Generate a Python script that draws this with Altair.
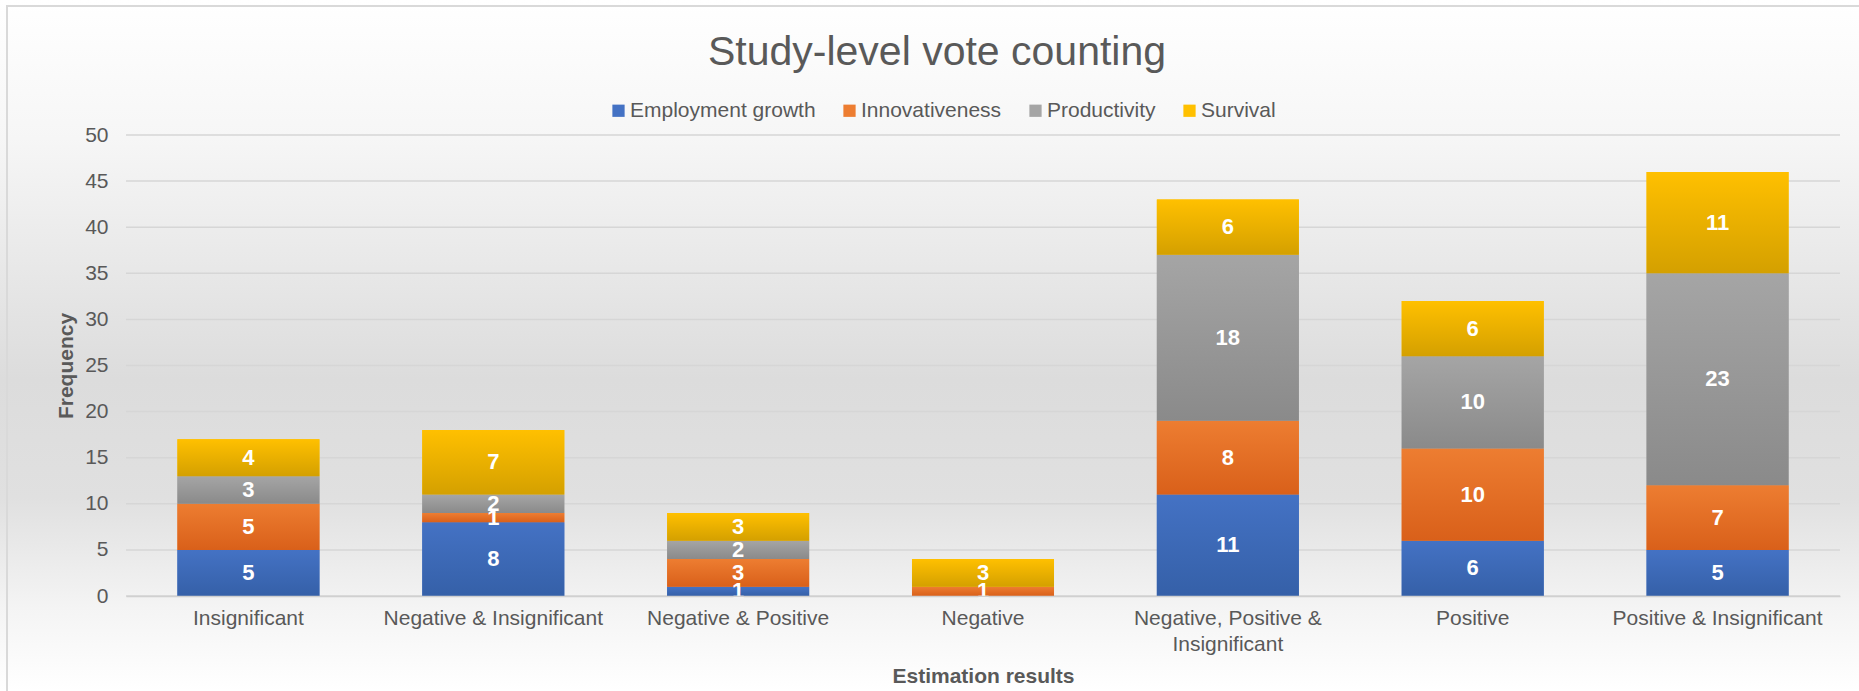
import altair as alt
import pandas as pd

# ---------------- data ----------------
CATEGORIES = [
    "Insignificant",
    "Negative & Insignificant",
    "Negative & Positive",
    "Negative",
    "Negative, Positive & Insignificant",
    "Positive",
    "Positive & Insignificant",
]
SERIES = ["Employment growth", "Innovativeness", "Productivity", "Survival"]
EMPLOYMENT = [5, 8, 1, 0, 11, 6, 5]
INNOVATIVENESS = [5, 1, 3, 1, 8, 10, 7]
PRODUCTIVITY = [3, 2, 2, 0, 18, 10, 23]
SURVIVAL = [4, 7, 3, 3, 6, 6, 11]
Y_TICKS = [0, 5, 10, 15, 20, 25, 30, 35, 40, 45, 50]

TOP_COLORS = ["#4472C4", "#ED7D31", "#A5A5A5", "#FFC000"]
BOTTOM_COLORS = ["#3560A8", "#D9601A", "#8A8A8A", "#D4A000"]

# ---------------- table ----------------
rows = []
series_values = [EMPLOYMENT, INNOVATIVENESS, PRODUCTIVITY, SURVIVAL]
for ci, cat in enumerate(CATEGORIES):
    base = 0
    for si, s in enumerate(SERIES):
        v = series_values[si][ci]
        rows.append({"category": cat, "series": s, "value": v,
                     "start": base, "end": base + v, "mid": base + v / 2})
        base += v
df = pd.DataFrame(rows)
ticks_df = pd.DataFrame({"start": Y_TICKS})

# ---------------- layout ----------------
W, H = 1714, 461
PAD_L, PAD_T, PAD_R, PAD_B = 126, 135, 19, 95
FONT = "Liberation Sans"
GREY_TXT = "#595959"

x_axis = alt.Axis(title="Estimation results", labelAngle=0, zindex=1,
                  labelExpr="datum.value == 'Negative, Positive & Insignificant' ? ['Negative, Positive &', 'Insignificant'] : datum.value",
                  labelFontSize=21, labelColor=GREY_TXT, labelFont=FONT,
                  labelPadding=11, labelLineHeight=26, labelLimit=400,
                  ticks=False, domainColor="#D0D0D0", domainWidth=1.5,
                  titleFontSize=21, titleFont=FONT, titleFontWeight="bold",
                  titleColor=GREY_TXT, titleX=W / 2, titleY=80,
                  titleBaseline="middle", titleAnchor="middle")
x_enc = alt.X("category:N", sort=CATEGORIES,
              scale=alt.Scale(paddingInner=0.42, paddingOuter=0.21),
              axis=x_axis)
y_scale = alt.Scale(domain=[0, 50], nice=False)
y_axis = alt.Axis(title="Frequency", values=Y_TICKS, grid=False, zindex=1,
                  labelFontSize=21, labelColor=GREY_TXT, labelFont=FONT,
                  labelPadding=18, ticks=False, domain=False,
                  titleFontSize=21, titleFont=FONT, titleFontWeight="bold",
                  titleColor=GREY_TXT, titleX=-60, titleY=H / 2,
                  titleAngle=-90, titleBaseline="middle", titleAlign="center")

one = alt.Data(values=[{"k": 1}])

background = alt.Chart(one).mark_rect(
    fill=alt.LinearGradient(
        gradient="linear", x1=0, x2=0, y1=0, y2=1,
        stops=[alt.GradientStop(color="#FFFFFF", offset=0),
               alt.GradientStop(color="#F6F6F6", offset=0.2),
               alt.GradientStop(color="#DCDCDC", offset=0.55),
               alt.GradientStop(color="#E0E0E0", offset=0.72),
               alt.GradientStop(color="#F4F4F4", offset=0.88),
               alt.GradientStop(color="#FFFFFF", offset=1)]),
).encode(x=alt.value(-PAD_L), x2=alt.value(W + PAD_R),
         y=alt.value(-PAD_T), y2=alt.value(H + PAD_B))

border = alt.Chart(one).mark_rect(
    fillOpacity=0, stroke="#D9D9D9", strokeWidth=2,
).encode(x=alt.value(-PAD_L + 7), x2=alt.value(W + PAD_R + 40),
         y=alt.value(-PAD_T + 6), y2=alt.value(H + PAD_B + 40))

grid = alt.Chart(ticks_df).mark_rule(color="#D6D6D6", strokeWidth=1.5).encode(
    y=alt.Y("start:Q", scale=y_scale, axis=y_axis)
)

solid = alt.Chart(df).mark_bar().encode(
    x=x_enc,
    y=alt.Y("start:Q", scale=y_scale, axis=y_axis),
    y2="end:Q",
    color=alt.Color("series:N", sort=SERIES,
                    scale=alt.Scale(domain=SERIES, range=TOP_COLORS),
                    legend=alt.Legend(title=None, orient="none", direction="horizontal",
                                      legendX=482, legendY=-35,
                                      symbolType="square", symbolSize=150,
                                      symbolStrokeWidth=0, labelFontSize=21,
                                      labelFont=FONT, labelColor=GREY_TXT, labelLimit=400,
                                      labelOffset=1, columnPadding=23)),
)

grad_layers = []
for si, s in enumerate(SERIES):
    g = alt.Chart(df).transform_filter(
        alt.datum.series == s
    ).mark_bar(
        fill=alt.LinearGradient(
            gradient="linear", x1=0, x2=0, y1=0, y2=1,
            stops=[alt.GradientStop(color=TOP_COLORS[si], offset=0),
                   alt.GradientStop(color=BOTTOM_COLORS[si], offset=1)])
    ).encode(
        x=alt.X("category:N", sort=CATEGORIES),
        y=alt.Y("start:Q"),
        y2="end:Q",
    )
    grad_layers.append(g)

labels = alt.Chart(df).transform_filter(
    alt.datum.value > 0
).mark_text(
    color="white", fontSize=22, fontWeight="bold", font=FONT, baseline="middle"
).encode(
    x=alt.X("category:N", sort=CATEGORIES),
    y=alt.Y("mid:Q"),
    text=alt.Text("value:Q"),
)

title = alt.Chart(alt.Data(values=[{"t": "Study-level vote counting"}])).mark_text(
    fontSize=41, font=FONT, color=GREY_TXT, align="center", baseline="middle"
).encode(text="t:N", x=alt.value(937 - PAD_L), y=alt.value(53 - PAD_T))

chart = alt.layer(background, border, grid, solid, *grad_layers, labels, title).properties(
    width=W, height=H,
    padding={"left": PAD_L, "top": PAD_T, "right": PAD_R, "bottom": PAD_B},
    autosize=alt.AutoSizeParams(type="none"),
).configure_view(stroke=None).configure(background="white")

chart.save("out.html", embed_options={"renderer": "svg", "actions": False})
